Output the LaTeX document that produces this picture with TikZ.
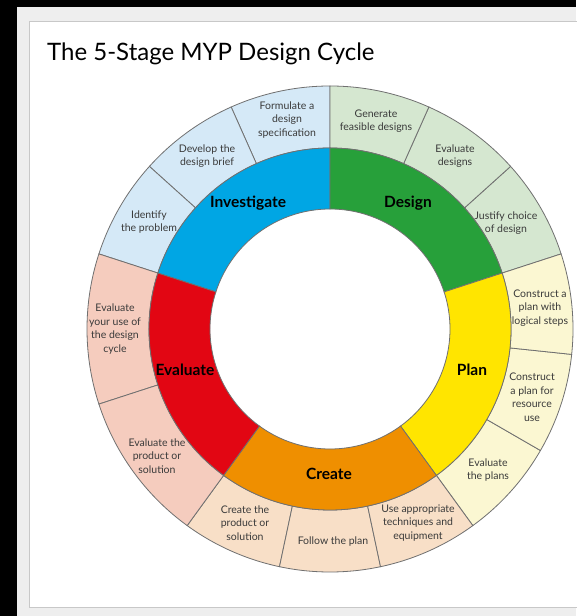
\documentclass[tikz,border=0pt]{standalone}
\usepackage{fontspec}
\setmainfont{Lato}
\definecolor{invD}{HTML}{00A6E4}
\definecolor{invL}{HTML}{D5E9F7}
\definecolor{desD}{HTML}{27A03A}
\definecolor{desL}{HTML}{D5E7D0}
\definecolor{plaD}{HTML}{FFE500}
\definecolor{plaL}{HTML}{FBF7D2}
\definecolor{creD}{HTML}{EF8F00}
\definecolor{creL}{HTML}{F8DFC7}
\definecolor{evaD}{HTML}{E20613}
\definecolor{evaL}{HTML}{F5CCBE}
\definecolor{edgegray}{HTML}{707070}
\definecolor{txtgray}{HTML}{3A3A3A}
\definecolor{panelgray}{HTML}{EEEEEE}
\definecolor{bordergray}{HTML}{C8C8C8}
\newcommand\ringsector[5]{%
  \filldraw[fill=#1, draw=edgegray, line width=0.8pt]
    (#2:#4) arc[start angle=#2, end angle=#3, radius=#4]
    -- (#3:#5) arc[start angle=#3, end angle=#2, radius=#5] -- cycle;}
\tikzset{
  sub/.style={font=\fontsize{10.5}{13.5}\selectfont, text=txtgray, align=center, inner sep=0pt},
  stage/.style={font=\fontsize{15.5}{17}\selectfont\bfseries, text=black, inner sep=0pt},
}
\begin{document}
\begin{tikzpicture}[x=1pt,y=1pt]
\useasboundingbox (0,0) rectangle (576,616);
\fill[black] (0,0) rectangle (576,616);
\fill[panelgray] (17,0) rectangle (576,609);
\filldraw[fill=white, draw=bordergray, line width=1pt] (29.5,8.5) rectangle (590,594);
\node[anchor=base west, inner sep=0pt, font=\fontsize{24}{28}\selectfont] (title) at (47,555) {The 5-Stage MYP Design Cycle};
\begin{scope}[shift={(330,287)}]
  % outer sub-steps
  \ringsector{invL}{90}{114}{181}{243}
  \ringsector{invL}{114}{138}{181}{243}
  \ringsector{invL}{138}{162}{181}{243}
  \ringsector{desL}{18}{42}{181}{243}
  \ringsector{desL}{42}{66}{181}{243}
  \ringsector{desL}{66}{90}{181}{243}
  \ringsector{plaL}{-54}{-30}{181}{243}
  \ringsector{plaL}{-30}{-6}{181}{243}
  \ringsector{plaL}{-6}{18}{181}{243}
  \ringsector{creL}{234}{258}{181}{243}
  \ringsector{creL}{258}{282}{181}{243}
  \ringsector{creL}{282}{306}{181}{243}
  \ringsector{evaL}{162}{198}{181}{243}
  \ringsector{evaL}{198}{234}{181}{243}
  % stages
  \ringsector{invD}{90}{162}{120}{181}
  \ringsector{desD}{18}{90}{120}{181}
  \ringsector{plaD}{-54}{18}{120}{181}
  \ringsector{creD}{234}{306}{120}{181}
  \ringsector{evaD}{162}{234}{120}{181}
\end{scope}
% stage labels
\node[stage] (investigate) at (248,413) {Investigate};
\node[stage] (design) at (408,413) {Design};
\node[stage] (plan) at (472,246) {Plan};
\node[stage] (create) at (329,142) {Create};
\node[stage] (evaluate) at (185,246) {Evaluate};
% sub-step labels
\node[sub] (formulate) at (287,496) {Formulate a\\design\\specification};
\node[sub] (develop) at (207,460) {Develop the\\design brief};
\node[sub] (identify) at (149,394) {Identify\\the problem};
\node[sub] (generate) at (376,495) {Generate\\feasible designs};
\node[sub] (evaldes) at (455,460) {Evaluate\\designs};
\node[sub] (justify) at (506,393) {Justify choice\\of design};
\node[sub] (conlog) at (540,308) {Construct a\\plan with\\logical steps};
\node[sub] (conres) at (532,219) {Construct\\a plan for\\resource\\use};
\node[sub] (evalplans) at (488,146) {Evaluate\\the plans};
\node[sub] (usetech) at (418,93) {Use appropriate\\techniques and\\equipment};
\node[sub] (follow) at (333,74) {Follow the plan};
\node[sub] (createprod) at (245,93) {Create the\\product or\\solution};
\node[sub] (evalprod) at (157,160) {Evaluate the\\product or\\solution};
\node[sub] (evaluse) at (115,287) {Evaluate\\your use of\\the design\\cycle};
\end{tikzpicture}
\end{document}
